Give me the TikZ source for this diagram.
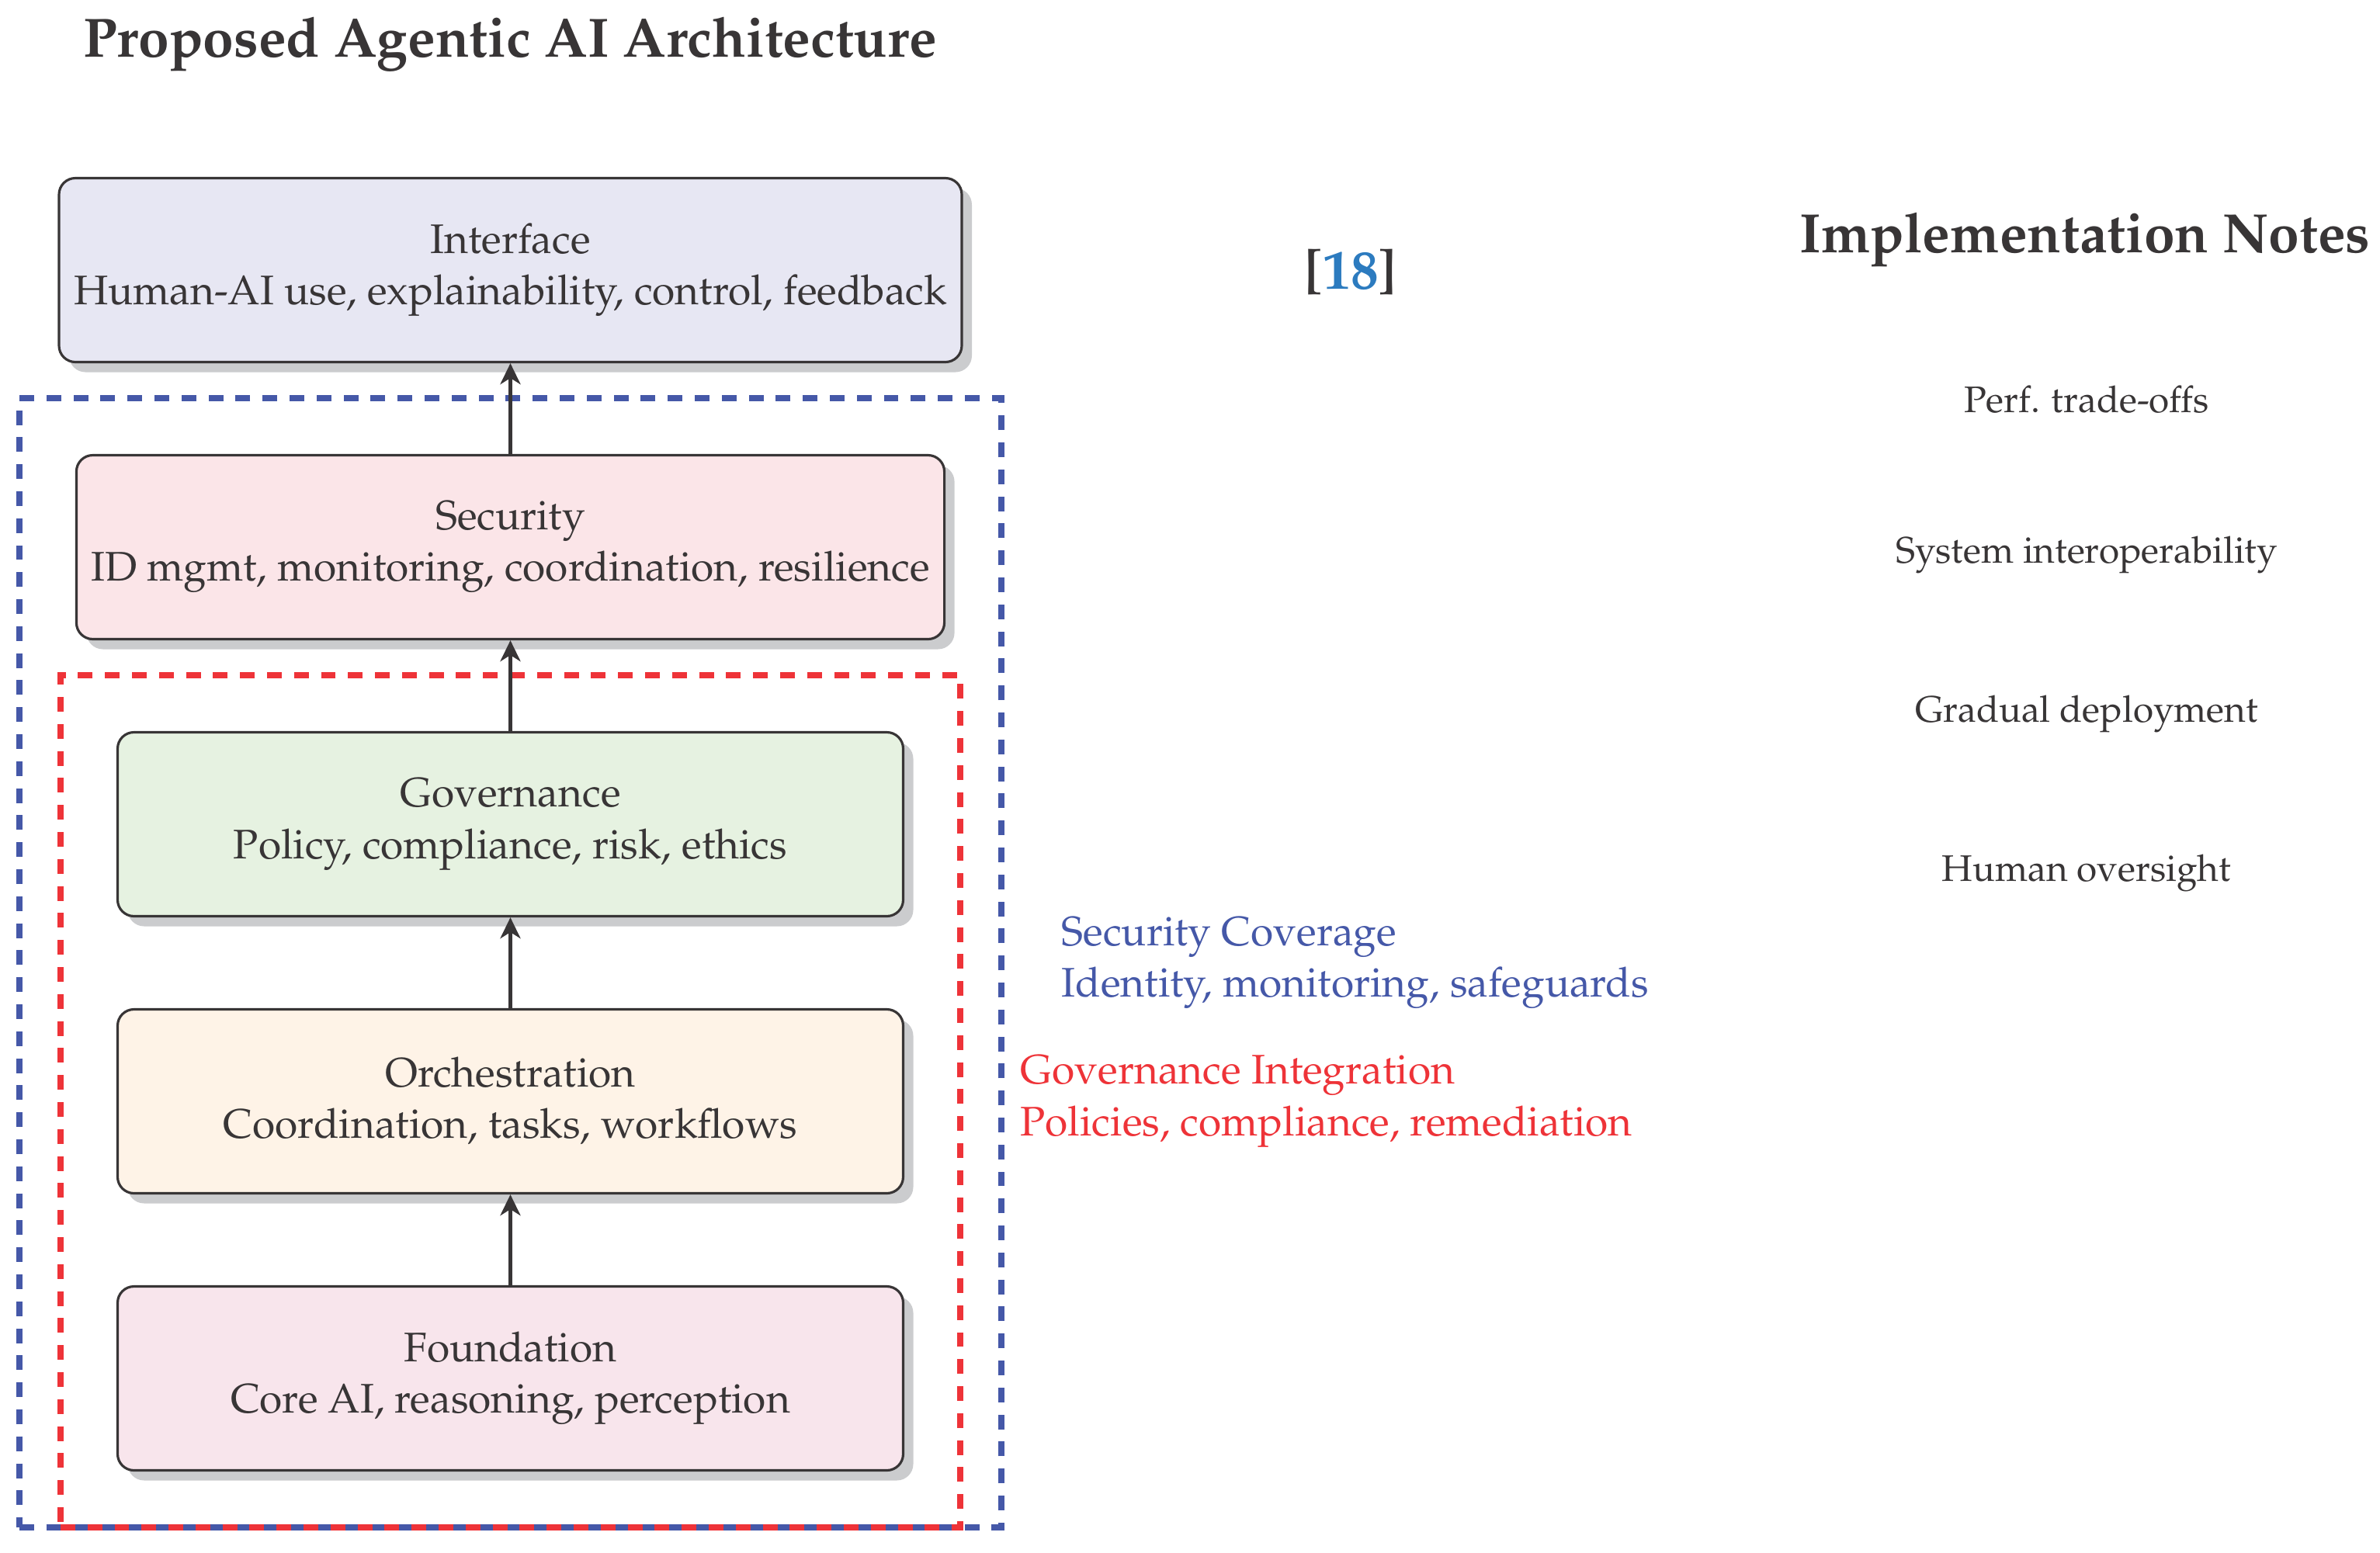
\documentclass[tikz,border=0pt]{standalone}
\IfFileExists{mathpazo.sty}{\usepackage[T1]{fontenc}\usepackage{mathpazo}}{\usepackage{fontspec}\setmainfont{Liberation Serif}}
\usetikzlibrary{arrows.meta,fit,shadows,calc}

\definecolor{inkgray}{HTML}{383536}
\definecolor{secblue}{HTML}{4558A8}
\definecolor{govred}{HTML}{EE3338}
\definecolor{citeblue}{HTML}{2C7BBF}
\definecolor{shadowgray}{HTML}{CBCCCE}
\definecolor{interfacefill}{HTML}{E7E7F3}
\definecolor{securityfill}{HTML}{FBE5E8}
\definecolor{governfill}{HTML}{E6F2E1}
\definecolor{orchfill}{HTML}{FEF3E7}
\definecolor{foundfill}{HTML}{F8E5EC}

\begin{document}
\begin{tikzpicture}[
  layer/.style={draw=inkgray, line width=0.9pt, rounded corners=6pt, align=center,
    text=inkgray, minimum width=10.12cm, minimum height=2.37cm, inner xsep=0.19cm,
    font=\fontsize{15.15}{18.8}\selectfont,
    drop shadow={shadow xshift=0.13cm, shadow yshift=-0.13cm, fill=shadowgray, opacity=1}},
  up/.style={-{Stealth[length=0.27cm,width=0.26cm,inset=0.08cm]}, line width=1.6pt, draw=inkgray},
  zone/.style={dash pattern=on 5.4pt off 4.5pt, line width=2.4pt, inner sep=0.72cm},
  heading/.style={font=\fontsize{20.3}{24}\selectfont\bfseries, text=inkgray, anchor=base},
  note/.style={font=\fontsize{13.55}{16}\selectfont, text=inkgray, anchor=base},
  zonelabel/.style={font=\fontsize{15.15}{18.8}\selectfont, align=left, anchor=west}
]
\useasboundingbox (0,0) rectangle (30.66,-20);

\node[heading] (title) at (6.57,-0.73) {Proposed Agentic AI Architecture};

% layers, top to bottom
\node[layer, fill=interfacefill] (iface) at (6.575,-3.48) {Interface\\Human-AI use, explainability, control, feedback};
\node[layer, fill=securityfill] (sec) at (6.575,-7.05) {Security\\ID mgmt, monitoring, coordination, resilience};
\node[layer, fill=governfill] (gov) at (6.575,-10.62) {Governance\\Policy, compliance, risk, ethics};
\node[layer, fill=orchfill] (orch) at (6.575,-14.19) {Orchestration\\Coordination, tasks, workflows};
\node[layer, fill=foundfill] (found) at (6.575,-17.76) {Foundation\\Core AI, reasoning, perception};

\node[zone, draw=secblue, fit=(sec)(found)] (secz) {};
\node[zone, draw=govred, fit=(gov)(found)] (govz) {};

\draw[up] (found.north) -- (orch.south);
\draw[up] (orch.north) -- (gov.south);
\draw[up] (gov.north) -- (sec.south);
\draw[up] (sec.north) -- (iface.south);

\node[zonelabel, text=secblue, xshift=0.61cm] (seclabel) at ($(secz.east |- gov)!0.5!(secz.east |- orch)$) {Security Coverage\\Identity, monitoring, safeguards};
\node[zonelabel, text=govred, xshift=0.61cm] (govlabel) at (govz.east |- orch) {Governance Integration\\Policies, compliance, remediation};

\node[heading] (cite) at (17.40,-3.72) {[\textcolor{citeblue}{18}]};

\node[heading] (notes) at (26.86,-3.25) {Implementation Notes};
\node[note] (n1) at (26.88,-5.31) {Perf. trade-offs};
\node[note] (n2) at (26.88,-7.25) {System interoperability};
\node[note] (n3) at (26.88,-9.30) {Gradual deployment};
\node[note] (n4) at (26.88,-11.35) {Human oversight};
\end{tikzpicture}
\end{document}
